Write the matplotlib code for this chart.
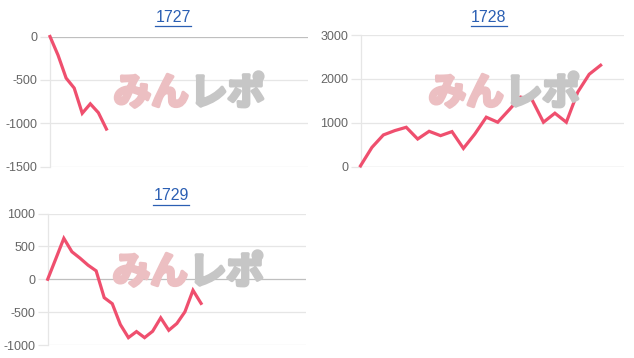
import matplotlib
matplotlib.use("Agg")
import matplotlib.pyplot as plt
from matplotlib.lines import Line2D
import matplotlib.patheffects as pe

# ---- data ----
titles = ["1727", "1728", "1729"]
v1727 = [0, -216, -480, -595, -886, -777, -879, -1068]
v1728 = [15, 436, 720, 819, 895, 627, 803, 704, 796, 413, 742, 1125,
         1010, 1293, 1584, 1523, 1010, 1216, 1010, 1698, 2104, 2310]
v1729 = [0, 310, 622, 418, 321, 214, 128, -280, -372, -689, -888, -796,
         -888, -791, -587, -776, -673, -495, -168, -367]
slots = [33, 24, 33]
yticks1727 = [0, -500, -1000, -1500]
yticks1728 = [0, 1000, 2000, 3000]
yticks1729 = [1000, 500, 0, -500, -1000]

W, H = 634, 358
fig = plt.figure(figsize=(W / 100, H / 100), dpi=100)
fig.patch.set_facecolor("white")

LINE = "#ef4f6e"
GRID = "#e6e6e6"
ZERO = "#bfbfbf"
TICKC = "#666666"
TITLEC = "#2b5fb3"


def px_axes(left, right, top, bottom):
    return fig.add_axes([left / W, (H - bottom) / H, (right - left) / W, (bottom - top) / H])


def setup(ax, vals, n, yt):
    x = list(range(len(vals)))
    ax.plot(x, vals, color=LINE, lw=2.3, solid_joinstyle="miter", zorder=5, clip_on=False)
    ax.set_xlim(0, n - 1)
    ax.set_ylim(min(yt), max(yt))
    ax.set_yticks(yt)
    ax.set_yticklabels([str(t) for t in yt])
    ax.set_xticks([])
    for t in yt:
        ax.axhline(t, color=ZERO if t == 0 else GRID, lw=0.9, zorder=1)
    for s in ["top", "right", "bottom"]:
        ax.spines[s].set_visible(False)
    ax.spines["left"].set_color(GRID)
    ax.spines["left"].set_linewidth(0.9)
    ax.tick_params(axis="y", length=7.5, width=0.9, color=GRID, pad=1.5,
                   labelsize=9, labelcolor=TICKC)
    for lab in ax.get_yticklabels():
        lab.set_family("Liberation Sans")


def title(xc, yc, text):
    fig.text(xc / W, (H - yc) / H, text, ha="center", va="center",
             color=TITLEC, fontsize=11.5, family="Liberation Sans")
    w = 36
    fig.add_artist(Line2D([(xc - w / 2) / W, (xc + w / 2) / W],
                          [(H - yc - 9) / H] * 2, color=TITLEC, lw=0.9))


def watermark(xc, yc):
    kw = dict(va="center", fontsize=27, fontweight="bold",
              family=["Noto Sans CJK JP", "DejaVu Sans"], zorder=0)
    fig.text(xc / W + 0.001, (H - yc) / H, "みん", ha="right", color="#ecbfc2",
             path_effects=[pe.withStroke(linewidth=2.5, foreground="#ecbfc2")], **kw)
    fig.text(xc / W + 0.003, (H - yc) / H, "レポ", ha="left", color="#c6c6c6",
             path_effects=[pe.withStroke(linewidth=2.5, foreground="#c6c6c6")], **kw)


ax1 = px_axes(50, 308, 36.5, 166.5)
ax2 = px_axes(360.5, 623.5, 35, 166.5)
ax3 = px_axes(47.7, 306, 213.5, 345)
for a in (ax1, ax2, ax3):
    a.patch.set_alpha(0)

watermark(188, 93)
watermark(503, 93)
watermark(187, 272)

setup(ax1, v1727, slots[0], yticks1727)
setup(ax2, v1728, slots[1], yticks1728)
setup(ax3, v1729, slots[2], yticks1729)

title(173, 17, titles[0])
title(489, 17, titles[1])
title(171, 196, titles[2])

fig.savefig("out.png", dpi=100, facecolor="white")
